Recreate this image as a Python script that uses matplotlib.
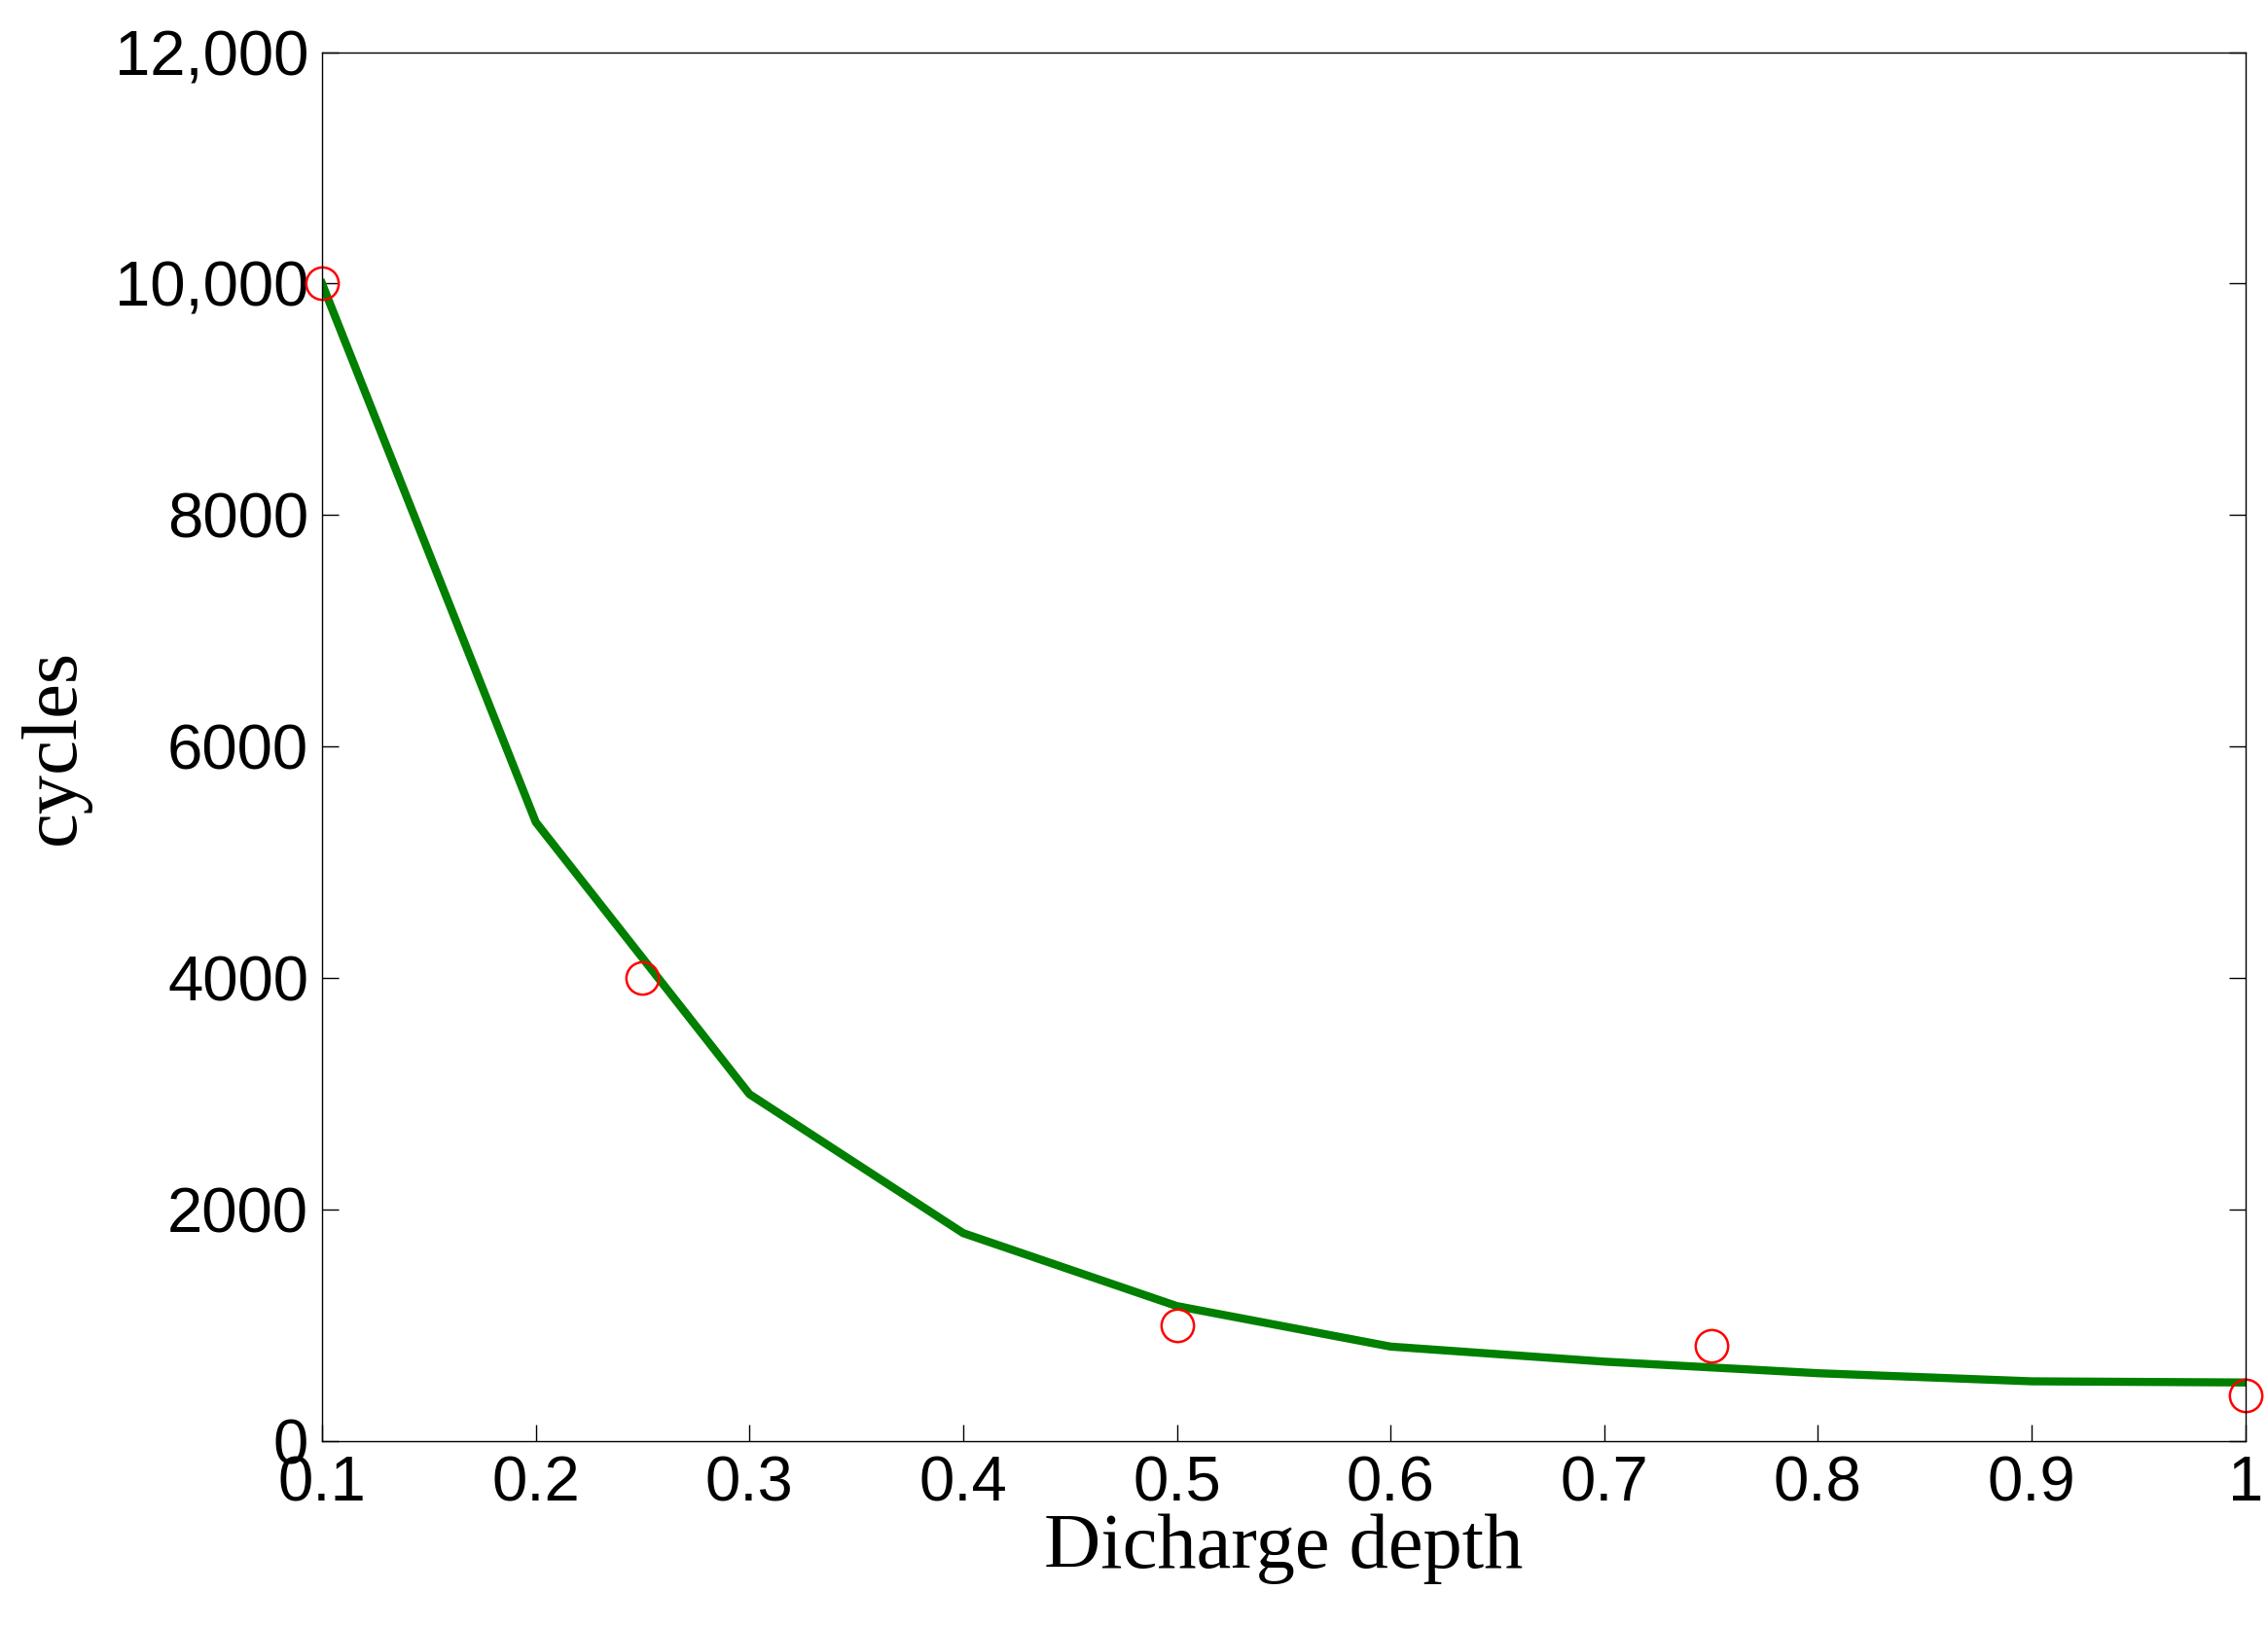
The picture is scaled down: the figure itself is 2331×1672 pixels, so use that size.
import matplotlib
matplotlib.use("Agg")
import matplotlib.pyplot as plt
from matplotlib.ticker import FuncFormatter

depth = [0.1, 0.2, 0.3, 0.4, 0.5, 0.6, 0.7, 0.8, 0.9, 1.0]
cycles_fit = [10000, 5350, 3000, 1800, 1170, 820, 690, 590, 520, 510]
depth_meas = [0.1, 0.25, 0.5, 0.75, 1.0]
cycles_meas = [10000, 4000, 1000, 830, 400]
xticks = [0.1, 0.2, 0.3, 0.4, 0.5, 0.6, 0.7, 0.8, 0.9, 1.0]
xticklabels = ["0.1", "0.2", "0.3", "0.4", "0.5", "0.6", "0.7", "0.8", "0.9", "1"]
yticks = [0, 2000, 4000, 6000, 8000, 10000, 12000]

fig = plt.figure(figsize=(23.31, 16.72), dpi=100)
ax = fig.add_axes([0.142, 0.114, 0.848, 0.854])
ax.plot(depth, cycles_fit, color="#007f00", lw=6)
ax.plot(depth_meas, cycles_meas, "o", mfc="none", mec="red", ms=24, mew=1.8, clip_on=False)
ax.set_xlim(0.1, 1.0)
ax.set_ylim(0, 12000)
ax.set_xticks(xticks)
ax.set_xticklabels(xticklabels)
ax.set_yticks(yticks)
ax.yaxis.set_major_formatter(FuncFormatter(lambda v, p: f"{int(v):,}" if v >= 10000 else f"{int(v)}"))
ax.tick_params(direction="in", length=12, width=1, top=False, right=True,
               labelsize=47, pad=10)
for lab in ax.get_xticklabels() + ax.get_yticklabels():
    lab.set_family("Liberation Sans")
for s in ax.spines.values():
    s.set_linewidth(1)
ax.set_xlabel("Dicharge depth", family="Liberation Serif", fontsize=58, labelpad=0)
ax.set_ylabel("cycles", family="Liberation Serif", fontsize=58, labelpad=18)
fig.savefig("out.png", dpi=100)
